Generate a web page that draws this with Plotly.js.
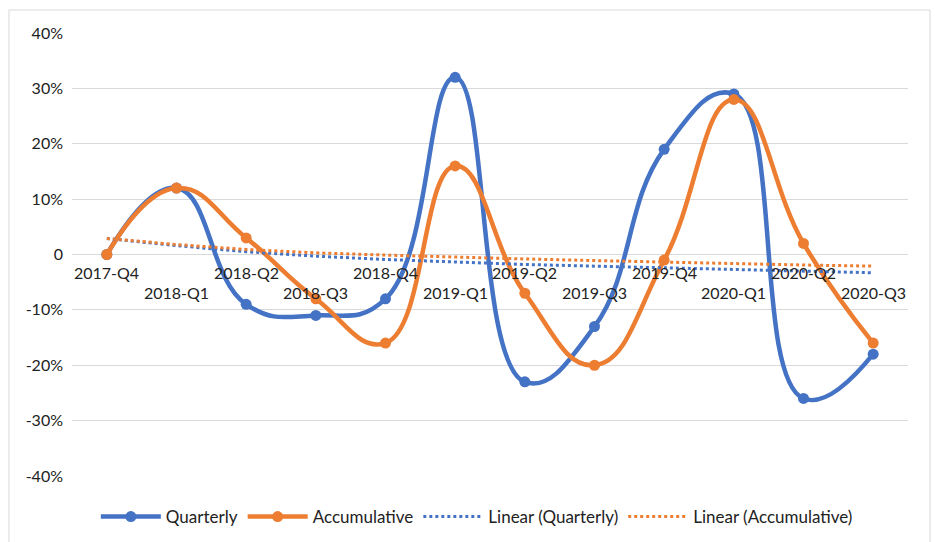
<!DOCTYPE html>
<html>
<head>
<meta charset="utf-8">
<script src="https://cdn.plot.ly/plotly-3.0.1.min.js"></script>
<style>
  html, body { margin: 0; padding: 0; background: #ffffff; }
  #chart { width: 935px; height: 542px; }
</style>
</head>
<body>
<div id="chart"></div>
<script>
// ---- data ----
const categories = ['2017-Q4','2018-Q1','2018-Q2','2018-Q3','2018-Q4','2019-Q1','2019-Q2','2019-Q3','2019-Q4','2020-Q1','2020-Q2','2020-Q3'];
const quarterly = [0, 12, -9, -11, -8, 32, -23, -13, 19, 29, -26, -18];
const accumulative = [0, 12, 3, -8, -16, 16, -7, -20, -1, 28, 2, -16];
const linearQuarterly = [2.9, 1.6, 0.5, -0.3, -0.9, -1.4, -1.8, -2.1, -2.4, -2.7, -3.0, -3.3];
const linearAccumulative = [2.9, 1.8, 0.9, 0.3, -0.1, -0.5, -0.8, -1.1, -1.4, -1.6, -1.9, -2.1];
const yTickVals = [-40, -30, -20, -10, 0, 10, 20, 30, 40];
const yTickText = ['-40%', '-30%', '-20%', '-10%', '0', '10%', '20%', '30%', '40%'];

const BLUE = '#4472C4';
const ORANGE = '#ED7D31';
const FONT = 'Lato, "Open Sans", sans-serif';
const TEXT = '#222222';

const xIdx = categories.map((c, i) => i);

const traces = [
  {
    name: 'Quarterly', x: xIdx, y: quarterly, type: 'scatter', mode: 'lines+markers',
    line: { color: BLUE, width: 4.5, shape: 'spline', smoothing: 1.3 },
    marker: { color: BLUE, size: 11 }
  },
  {
    name: 'Accumulative', x: xIdx, y: accumulative, type: 'scatter', mode: 'lines+markers',
    line: { color: ORANGE, width: 4.5, shape: 'spline', smoothing: 1.3 },
    marker: { color: ORANGE, size: 11 }
  },
  {
    name: 'Linear (Quarterly)', x: xIdx, y: linearQuarterly, type: 'scatter', mode: 'lines',
    line: { color: BLUE, width: 3, dash: 'dot' }
  },
  {
    name: 'Linear (Accumulative)', x: xIdx, y: linearAccumulative, type: 'scatter', mode: 'lines',
    line: { color: ORANGE, width: 3, dash: 'dot' }
  }
];

// staggered category labels along the zero line
const annotations = categories.map((c, i) => ({
  x: i, y: 0, xref: 'x', yref: 'y', text: c, showarrow: false,
  xanchor: 'center', yanchor: 'middle', yshift: (i % 2 === 0) ? -18 : -38,
  font: { family: FONT, size: 16, color: TEXT }
}));

const layout = {
  width: 935, height: 542,
  margin: { l: 72, r: 27, t: 33, b: 66, autoexpand: false },
  paper_bgcolor: '#ffffff', plot_bgcolor: '#ffffff',
  font: { family: FONT, size: 16, color: TEXT },
  showlegend: true,
  legend: {
    orientation: 'h', x: 0.51, xanchor: 'center', xref: 'container',
    y: 0.046, yanchor: 'middle', yref: 'container',
    font: { family: FONT, size: 17, color: TEXT }, itemwidth: 60, traceorder: 'normal'
  },
  xaxis: {
    range: [-0.5, 11.5], showgrid: false, zeroline: false, showticklabels: false,
    showline: false, ticks: '', fixedrange: true
  },
  yaxis: {
    range: [-40, 40], tickvals: yTickVals, ticktext: yTickText,
    showgrid: true, gridcolor: '#D9D9D9', gridwidth: 1, zeroline: false,
    showline: false, ticks: '', ticklen: 0, ticklabelstandoff: 8,
    tickfont: { family: FONT, size: 16, color: TEXT },
    fixedrange: true
  },
  annotations: annotations,
  shapes: [{
    type: 'rect', xref: 'paper', yref: 'paper',
    x0: -0.0754, x1: 1.0263, y0: -0.16, y1: 1.0519,
    line: { color: '#D9D9D9', width: 1 }, fillcolor: 'rgba(0,0,0,0)', layer: 'below'
  }]
};

Plotly.newPlot('chart', traces, layout, { displayModeBar: false, staticPlot: true });
</script>
</body>
</html>
